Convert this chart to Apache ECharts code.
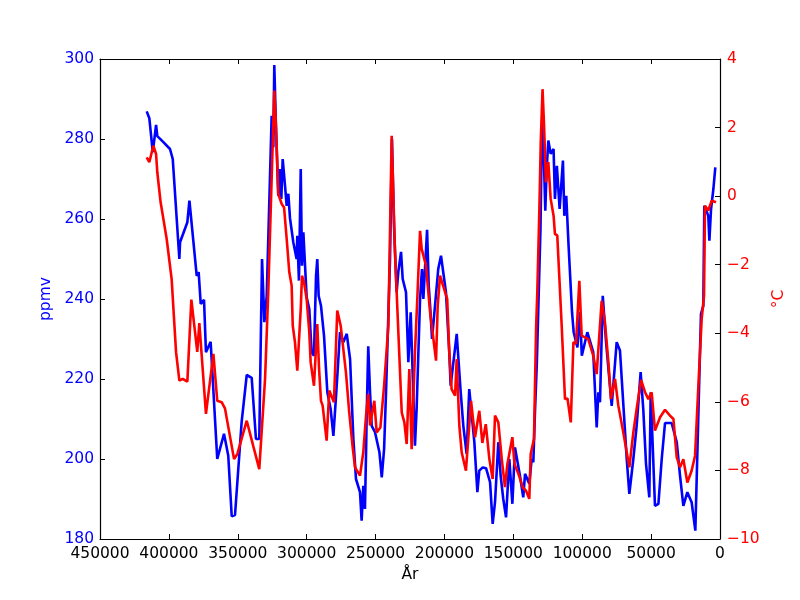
<!DOCTYPE html>
<html>
<head>
<meta charset="utf-8">
<title>Vostok</title>
<script src="https://cdn.jsdelivr.net/npm/echarts@6/dist/echarts.min.js"></script>
<style>
    html, body { margin: 0; padding: 0; background: #fff; }
    #main { width: 800px; height: 600px; }
</style>
</head>
<body>
<div id="main"></div>
<script>
// CO2 (ppmv), år före nutid
var co2Years = [416100, 414200, 411700, 409300, 408400, 404000, 399200, 397200, 392400, 391900,
    386600, 385100, 379800, 378400, 376900, 374500, 373100, 369700, 364900, 360000,
    356900, 354400, 352000, 347200, 343500, 339900, 336800, 334400, 332400, 330700,
    329000, 325400, 324200, 323500, 322300, 320600, 319300, 318400, 317400, 315700,
    314500, 313300, 312100, 309700, 307300, 306800, 305600, 304300, 303400, 302400,
    300000, 298100, 296400, 294700, 293200, 292300, 291300, 289600, 287400, 285000,
    282600, 280600, 278200, 275800, 273400, 270900, 268500, 266100, 264200, 261300,
    260100, 258900, 257700, 256900, 256400, 255300, 254000, 252800, 250400, 247200,
    245500, 243800, 242400, 239500, 238100, 236600, 234700, 233500, 231500, 230300,
    227900, 226200, 224500, 221400, 220200, 217700, 216300, 215300, 212600, 211400,
    210400, 209000, 204500, 202500, 198900, 196500, 195500, 191100, 188200, 186300,
    183900, 182000, 178300, 176100, 174700, 172200, 169800, 166900, 165000, 163300,
    160900, 159200, 157300, 155300, 152900, 150700, 148800, 145200, 142800, 141500,
    138400, 136700, 135500, 134300, 133000, 130300, 129500, 128800, 126800, 125800,
    124600, 122900, 120800, 119800, 118400, 116400, 114000, 113000, 111600, 109900,
    107400, 106200, 103500, 101600, 100300, 96300, 92000, 89500, 88300, 87100,
    85100, 82700, 78600, 75000, 72600, 67700, 65800, 62900, 60500, 57600,
    55700, 53700, 51300, 50300, 47200, 44700, 42300, 39900, 35100, 31400,
    29000, 26600, 23700, 20600, 17900, 13800, 12100, 11400, 8500, 7700,
    6500, 4800, 3400];
var co2Values = [286.9, 285.2, 276.7, 283.5, 280.7, 279.2, 277.5, 275, 250, 254.2,
    259.2, 264.6, 245.8, 246.7, 238.8, 239.8, 226.7, 229.3, 200, 206.3,
    200.8, 185.7, 186, 209.2, 221, 220.3, 205, 205, 250, 234.2,
    240.8, 285.8, 277.9, 298.5, 283.3, 265.8, 272.5, 265, 275, 268.3,
    263.3, 266.3, 260.2, 254.2, 250, 255.8, 244.6, 272.5, 248.3, 256.7,
    240.4, 237.5, 226.7, 225.8, 245.8, 250, 240.8, 238.3, 230.8, 216.7,
    212.5, 205.8, 218.3, 231.7, 229.2, 231.3, 225, 205, 195, 191.7,
    184.6, 193.3, 187.5, 201.7, 211.7, 228.2, 216.7, 208.3, 206.7, 201.7,
    195.4, 202.5, 216.7, 250, 280, 258.3, 241.7, 246.7, 251.8, 245,
    241.7, 224.2, 236.7, 203.3, 212.5, 240, 247.5, 240, 257.3, 243.3,
    238.3, 230, 247.5, 250.8, 241.7, 226.7, 218.3, 231.3, 216.7, 208.3,
    201.3, 217.5, 204.2, 191.7, 197.1, 197.9, 197.7, 194.2, 183.8, 189.2,
    204.2, 195.8, 190, 185.4, 200, 188.8, 202.9, 195.8, 190.4, 196.3,
    193.8, 200, 199.2, 211.7, 223.3, 257.5, 276.7, 287.5, 262.1, 272.5,
    279.6, 276.3, 277.5, 265, 273.3, 262.5, 274.6, 260.8, 265.8, 253.3,
    236.7, 231.7, 227.9, 236.7, 225.8, 231.7, 226.7, 207.9, 216.7, 214.2,
    240.8, 229.2, 213.3, 229.2, 227.1, 200, 191.3, 200, 208.3, 221.7,
    212.5, 198.8, 190.4, 216.7, 188.3, 188.8, 200, 209, 209, 204.2,
    195.8, 188.3, 191.7, 189.2, 182.1, 236.3, 238.3, 263.3, 260.8, 254.6,
    262.5, 267.5, 272.9];

// temperatur (°C)
var tempYears = [416100, 414200, 411300, 409300, 408400, 406000, 401600, 398000, 394800, 392400,
    390000, 386600, 383700, 379400, 377900, 373100, 367700, 364900, 361700, 359300,
    352700, 350300, 343500, 338700, 334400, 330200, 327800, 323500, 322300, 320600,
    318100, 316400, 314500, 312600, 310900, 310100, 308500, 306800, 305400, 304300,
    303400, 301900, 300000, 298100, 297100, 294700, 292300, 291000, 289600, 288400,
    285500, 283600, 280200, 277800, 275300, 271500, 269100, 266600, 264900, 261300,
    258900, 256900, 255300, 254000, 250900, 249200, 246500, 243800, 240700, 238300,
    235900, 231000, 229100, 227400, 225500, 223800, 221400, 219700, 217700, 216500,
    213400, 210400, 206100, 204900, 203200, 198000, 196500, 194800, 192300, 191100,
    189200, 187500, 184400, 180700, 177800, 174700, 172500, 170000, 167400, 165000,
    163300, 160900, 158400, 156100, 154300, 150700, 149200, 146300, 143200, 140800,
    138400, 137400, 135000, 133500, 132600, 131100, 130100, 128800, 127700, 126300,
    124600, 122900, 120800, 119800, 118100, 114900, 112500, 110700, 108300, 106400,
    104500, 102100, 100400, 95600, 92000, 89500, 85900, 83500, 81000, 79100,
    76200, 73800, 70200, 65800, 62900, 60500, 57300, 54400, 52000, 49600,
    47200, 43500, 39900, 36300, 33800, 31400, 29000, 26600, 23700, 20600,
    18100, 15700, 13300, 11600, 10900, 8500, 7300, 6000, 2900];
var tempValues = [1.13, 0.99, 1.47, 1.23, 0.69, -0.18, -1.25, -2.42, -4.55, -5.38,
    -5.33, -5.41, -3.02, -4.54, -3.7, -6.35, -4.6, -5.97, -6.01, -6.19,
    -7.67, -7.52, -6.55, -7.3, -7.96, -5.33, -2.71, 3.08, 2.05, 0.06,
    -0.23, -0.33, -1.25, -2.22, -2.61, -3.78, -4.26, -5.09, -5.14, -3.29,
    -2.32, -2.51, -3, -3.97, -4.85, -5.53, -3.73, -5.04, -5.97, -6.11,
    -7.13, -5.67, -6.01, -3.34, -3.78, -5.14, -6.31, -7.33, -7.91, -8.15,
    -7.47, -6.4, -5.77, -6.69, -5.97, -6.89, -6.75, -5.53, -3.78, 1.76,
    -1.64, -6.31, -6.6, -7.23, -5.04, -7.38, -4.55, -3, -1.01, -1.54,
    -2.03, -3.39, -4.8, -3.2, -2.32, -3, -4.55, -5.63, -5.82, -4.75,
    -6.69, -7.47, -8.01, -5.97, -7.03, -6.26, -7.2, -6.65, -7.67, -8.25,
    -6.4, -6.6, -7.67, -8.49, -7.81, -7.03, -7.81, -8.1, -8.49, -8.59,
    -8.83, -7.52, -7.08, -3.87, -2.8, -0.38, 1.57, 3.12, 2.05, 0.4,
    0.99, -0.08, -0.57, -1.1, -1.15, -3.78, -5.92, -5.9, -6.6, -4.26,
    -4.3, -2.47, -4.07, -4.17, -4.65, -5.19, -3.05, -3.68, -4.85, -5.92,
    -5.33, -6.11, -6.89, -7.91, -6.89, -6.21, -5.36, -5.72, -5.92, -5.72,
    -6.84, -6.45, -6.23, -6.4, -6.5, -7.62, -7.91, -7.67, -8.35, -8.01,
    -7.57, -5.53, -3.58, -2.9, -0.28, -0.42, -0.42, -0.13, -0.18];

var co2Ticks = [180, 300, 20];
var tempTicks = [-10, 4, 2];
var yearTicks = [0, 450000, 50000];

function zip(xs, ys) {
    var out = [];
    for (var i = 0; i < xs.length; i++) {
        out.push([xs[i], ys[i]]);
    }
    return out;
}

var font = 'DejaVu Sans';
var myChart = echarts.init(document.getElementById('main'));

var option = {
    animation: false,
    backgroundColor: '#fff',
    grid: { left: 100, right: 80, top: 59, bottom: 61 },
    xAxis: [
        {
            type: 'value',
            position: 'bottom',
            inverse: true,
            min: yearTicks[0], max: yearTicks[1], interval: yearTicks[2],
            name: 'År',
            nameLocation: 'middle',
            nameGap: 28,
            nameTextStyle: { color: '#000', fontFamily: font, fontSize: 15.5 },
            axisLine: { show: true, onZero: false, lineStyle: { color: '#000', width: 1.2 } },
            axisTick: { show: true, inside: true, length: 5, lineStyle: { color: '#000' } },
            axisLabel: {
                color: '#000', fontFamily: font, fontSize: 15.5, margin: 7,
                formatter: function (v) { return String(v); }
            },
            splitLine: { show: false }
        },
        {
            // bara tickmarks upptill
            type: 'value',
            position: 'top',
            inverse: true,
            min: yearTicks[0], max: yearTicks[1], interval: yearTicks[2],
            axisLine: { show: true, onZero: false, lineStyle: { color: '#000', width: 1.2 } },
            axisTick: { show: true, inside: true, length: 5, lineStyle: { color: '#000' } },
            axisLabel: { show: false },
            splitLine: { show: false }
        }
    ],
    yAxis: [
        {
            type: 'value',
            position: 'left',
            min: co2Ticks[0], max: co2Ticks[1], interval: co2Ticks[2],
            name: 'ppmv',
            nameLocation: 'middle',
            nameRotate: 90,
            nameGap: 38,
            nameTextStyle: { color: '#0000ff', fontFamily: font, fontSize: 15.5 },
            axisLine: { show: true, onZero: false, lineStyle: { color: '#000', width: 1.2 } },
            axisTick: { show: true, inside: true, length: 5, lineStyle: { color: '#000' } },
            axisLabel: { color: '#0000ff', fontFamily: font, fontSize: 15.5, margin: 6 },
            splitLine: { show: false }
        },
        {
            type: 'value',
            position: 'right',
            min: tempTicks[0], max: tempTicks[1], interval: tempTicks[2],
            name: '°C',
            nameLocation: 'middle',
            nameRotate: 90,
            nameGap: 37,
            nameTextStyle: { color: '#ff0000', fontFamily: font, fontSize: 15.5 },
            axisLine: { show: true, onZero: false, lineStyle: { color: '#000', width: 1.2 } },
            axisTick: { show: true, inside: true, length: 5, lineStyle: { color: '#000' } },
            axisLabel: {
                color: '#ff0000', fontFamily: font, fontSize: 15.5, margin: 7,
                formatter: function (v) { return String(v).replace('-', '\u2212'); }
            },
            splitLine: { show: false }
        }
    ],
    series: [
        {
            name: 'CO2',
            type: 'line',
            xAxisIndex: 0,
            yAxisIndex: 0,
            showSymbol: false,
            lineStyle: { color: '#0000ff', width: 2.6 },
            itemStyle: { color: '#0000ff' },
            data: zip(co2Years, co2Values)
        },
        {
            name: 'Temp',
            type: 'line',
            xAxisIndex: 0,
            yAxisIndex: 1,
            showSymbol: false,
            lineStyle: { color: '#ff0000', width: 2.6 },
            itemStyle: { color: '#ff0000' },
            data: zip(tempYears, tempValues)
        }
    ]
};
myChart.setOption(option);
</script>
</body>
</html>
